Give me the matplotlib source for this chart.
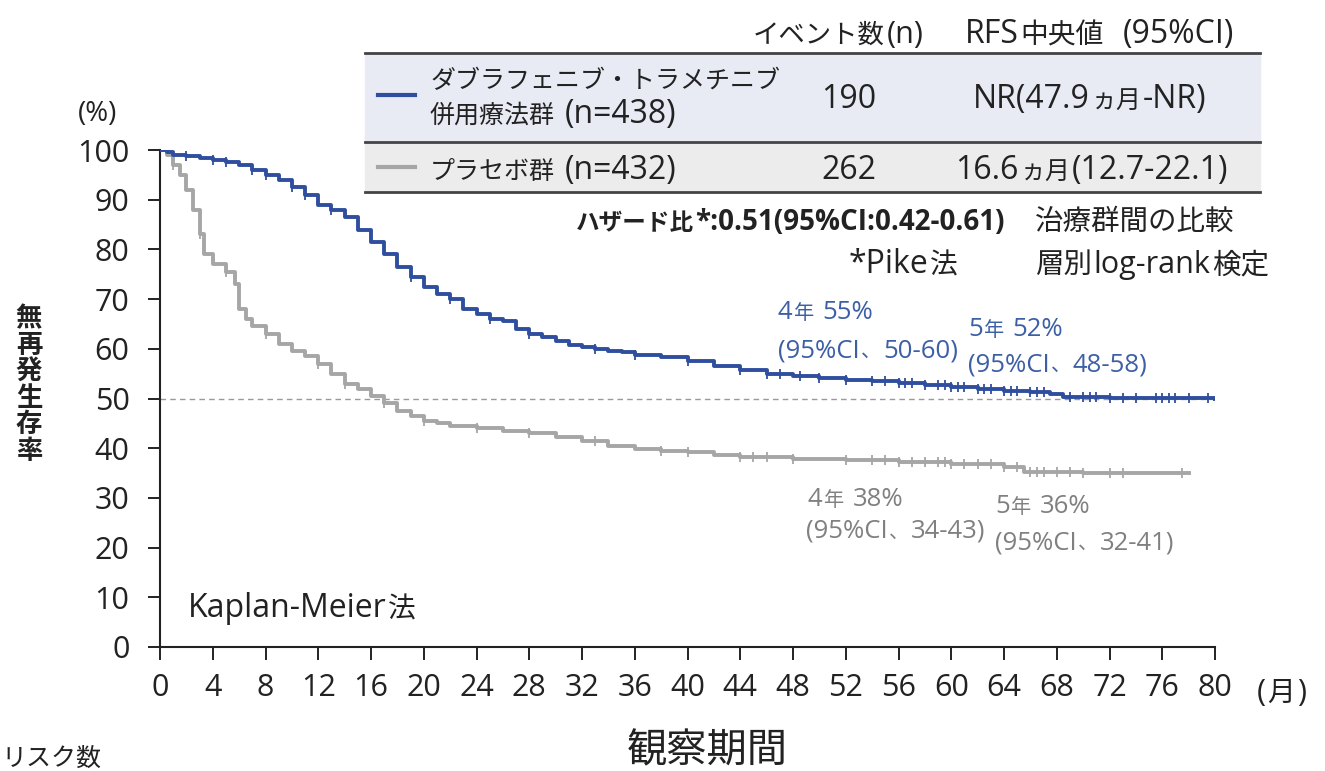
import matplotlib.pyplot as plt
from matplotlib.patches import Rectangle
from matplotlib.lines import Line2D
import numpy as np

plt.rcParams['font.family'] = ['Noto Sans CJK JP', 'DejaVu Sans']

# Kaplan-Meier curves (months, % relapse-free)
combo_t = [0, 0.5, 1, 2, 3, 4, 5, 6, 7, 8, 9, 10, 11, 12, 13, 14, 15, 16, 17, 18, 19, 20,
           21, 22, 23, 24, 25, 26, 27, 28, 29, 30, 31, 32, 33, 34, 35, 36, 38, 40, 42, 44,
           46, 48, 50, 52, 54, 56, 58, 60, 62, 64, 66, 67.5, 68.5, 72, 80]
combo_s = [100, 99.5, 99, 98.7, 98.3, 98, 97.5, 97, 96, 95, 94, 92.5, 91, 89, 88, 86.5, 84,
           81.5, 79, 76.5, 74.5, 72.5, 71, 70, 68, 67, 66, 65.5, 64, 63, 62.3, 61.5, 60.8,
           60.3, 60, 59.6, 59.3, 58.8, 58.3, 57.5, 56.5, 55.7, 55, 54.5, 54.2, 53.8, 53.5,
           53.1, 52.7, 52.3, 51.9, 51.6, 51.3, 51, 50.3, 50.1, 50]
combo_cens = [2, 4, 5, 7, 8, 10, 11, 13, 19, 22, 25, 28, 33, 36, 40, 44, 46, 47, 48.5, 50,
              52, 54, 55, 56, 56.5, 57, 58, 59, 59.5, 60, 60.5, 61, 62, 62.5, 63, 64, 64.5,
              65, 66, 66.5, 67, 69, 70, 70.5, 71, 72, 73, 74, 75.5, 76, 76.5, 77, 78, 79.5]

placebo_t = [0, 0.5, 1, 1.5, 2, 2.5, 3, 3.3, 4, 5, 5.7, 6, 6.5, 7, 8, 9, 10, 11, 12, 13, 14,
             15, 16, 17, 18, 19, 20, 21, 22, 24, 26, 28, 30, 32, 34, 36, 38, 40, 42, 44,
             48, 52, 56, 60, 64, 65.5, 70, 78]
placebo_s = [100, 99, 97, 95, 92, 88, 83, 79, 77, 75.5, 73, 68, 66, 64.5, 63, 61, 59.5,
             58.5, 57, 55, 53, 52, 50.5, 49, 47.5, 46.5, 45.5, 45, 44.5, 44, 43.5, 43, 42.3,
             41.5, 40.5, 39.8, 39.5, 39.2, 38.7, 38.2, 37.8, 37.6, 37.2, 36.8, 36.2, 35.3,
             35, 35]
placebo_cens = [1, 3, 5, 8, 12, 14, 17, 20, 24, 28, 33, 38, 40, 44, 45, 46, 48, 52, 54, 55,
                56, 57, 58, 59, 59.5, 60, 61, 62, 63, 64, 65, 66, 66.5, 67, 68, 69, 70, 72,
                73, 77.5]

x_ticks = list(range(0, 81, 4))
y_ticks = list(range(0, 101, 10))

BLUE = '#2f4f9e'
BLUE_TXT = '#3c5fa6'
GRAY = '#a6a6a6'
GRAY_TXT = '#808080'
DARK = '#222222'
LATIN = ['Open Sans', 'Noto Sans CJK JP']
CJK = ['Noto Sans CJK JP']

W, H = 1325, 771
fig = plt.figure(figsize=(W / 100, H / 100), dpi=100)
ax = fig.add_axes([160 / W, 1 - 647 / H, (1215 - 160) / W, (647 - 150) / H])


def step_at(t, s, c):
    idx = np.searchsorted(t, c, side='right') - 1
    return np.array(s)[idx]


ax.axhline(50, color='#999999', lw=1, ls=(0, (4, 3)), zorder=1)
ax.step(placebo_t, placebo_s, where='post', color=GRAY, lw=2.8, zorder=2)
ax.step(combo_t, combo_s, where='post', color=BLUE, lw=2.8, zorder=3)
ax.plot(placebo_cens, step_at(placebo_t, placebo_s, placebo_cens), ls='none', marker='|',
        ms=7, mew=1.3, color=GRAY, zorder=2)
ax.plot(combo_cens, step_at(combo_t, combo_s, combo_cens), ls='none', marker='|',
        ms=7, mew=1.3, color=BLUE, zorder=3)

ax.set_xlim(0, 80)
ax.set_ylim(0, 100)
ax.set_xticks(x_ticks)
ax.set_yticks(y_ticks)
ax.tick_params(direction='out', length=9, width=1.4, color=DARK, labelsize=22,
               labelcolor=DARK)
ax.tick_params(axis='y', pad=13)
ax.tick_params(axis='x', pad=10)
for lab in ax.get_xticklabels() + ax.get_yticklabels():
    lab.set_family(LATIN)
for side in ['top', 'right']:
    ax.spines[side].set_visible(False)
for side in ['left', 'bottom']:
    ax.spines[side].set_color(DARK)
    ax.spines[side].set_linewidth(1.5)

renderer = fig.canvas.get_renderer()


def mixed(x, y, s, cjk, lat, ha='left', color=DARK, weight='normal'):
    # draw CJK runs and Latin runs at their own sizes, on one baseline (pixel coords)
    runs = []
    for ch in s:
        kind = 's' if ch == ' ' else ('c' if ord(ch) >= 0x2E80 else 'l')
        if runs and runs[-1][0] == kind:
            runs[-1][1] += ch
        else:
            runs.append([kind, ch])
    items = []
    cur = 0.0
    for kind, txt in runs:
        if kind == 's':
            cur += len(txt) * 0.27 * lat * 100 / 72
            continue
        t = fig.text(0, 1 - y / H, txt, fontsize=cjk if kind == 'c' else lat,
                     family=CJK if kind == 'c' else LATIN, color=color,
                     fontweight=weight, va='baseline', ha='left')
        wpx = t.get_window_extent(renderer).width
        items.append((t, cur))
        cur += wpx + 1.5
    total = cur - 1.5
    x0 = x - {'left': 0, 'center': total / 2, 'right': total}[ha]
    for t, off in items:
        t.set_x((x0 + off) / W)


mixed(1257, 701, '(月)', 20, 22)
mixed(78, 121, '(%)', 20, 20)
fig.text(29 / W, 1 - 385 / H, '\n'.join('無再発生存率'), fontsize=19, color=DARK,
         ha='center', va='center', linespacing=0.98, fontweight='bold')
mixed(707, 762, '観察期間', 29, 29, ha='center')
mixed(1, 766, 'リスク数', 18, 18)
mixed(188, 617, 'Kaplan-Meier法', 20, 23)

# table
fig.patches.append(Rectangle((365 / W, 1 - 142 / H), (1260 - 365) / W, (142 - 53) / H,
                             transform=fig.transFigure, color='#e8eaf4', zorder=0))
fig.patches.append(Rectangle((365 / W, 1 - 192 / H), (1260 - 365) / W, (192 - 142) / H,
                             transform=fig.transFigure, color='#ececec', zorder=0))
for yy in [53, 142, 192]:
    fig.lines.append(Line2D([365 / W, 1260 / W], [1 - yy / H, 1 - yy / H],
                            transform=fig.transFigure, color='#444444', lw=2))
fig.lines.append(Line2D([378 / W, 415 / W], [1 - 95 / H, 1 - 95 / H],
                        transform=fig.transFigure, color=BLUE, lw=3))
fig.lines.append(Line2D([378 / W, 415 / W], [1 - 167 / H, 1 - 167 / H],
                        transform=fig.transFigure, color=GRAY, lw=3))

mixed(753, 43, 'イベント数(n)', 19, 22)
mixed(965, 43, 'RFS中央値  (95%CI)', 20, 23)
mixed(430, 88, 'ダブラフェニブ・トラメチニブ', 18, 23)
mixed(430, 123, '併用療法群 (n=438)', 18, 23)
mixed(430, 179, 'プラセボ群 (n=432)', 18, 23)
mixed(849, 108, '190', 18, 23, ha='center')
mixed(849, 179, '262', 18, 23, ha='center')
mixed(1090, 108, 'NR(47.9ヵ月-NR)', 18, 23, ha='center')
mixed(1092, 179, '16.6ヵ月(12.7-22.1)', 18, 23, ha='center')

mixed(1005, 230, 'ハザード比*:0.51(95%CI:0.42-0.61)', 17, 20, ha='right', weight='bold')
mixed(958, 273, '*Pike法', 20, 23, ha='right')
mixed(1035, 230, '治療群間の比較', 20.5, 22)
mixed(1035, 273, '層別log-rank検定', 20.5, 22)

# landmark annotations
mixed(778, 319, '4年 55%', 14.5, 18.5, color=BLUE_TXT)
mixed(778, 357, '(95%CI、50-60)', 14.5, 18.5, color=BLUE_TXT)
mixed(968, 336, '5年 52%', 14.5, 18.5, color=BLUE_TXT)
mixed(968, 371, '(95%CI、48-58)', 14.5, 18.5, color=BLUE_TXT)
mixed(808, 506, '4年 38%', 14.5, 18.5, color=GRAY_TXT)
mixed(806, 538, '(95%CI、34-43)', 14.5, 18.5, color=GRAY_TXT)
mixed(995, 513, '5年 36%', 14.5, 18.5, color=GRAY_TXT)
mixed(995, 549, '(95%CI、32-41)', 14.5, 18.5, color=GRAY_TXT)

fig.savefig('out.png', dpi=100)
